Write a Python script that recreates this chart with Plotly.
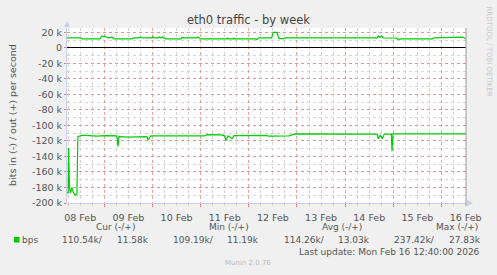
import plotly.graph_objects as go

# ---------------- data ----------------
in_times = ["2026-02-08 05:25", "2026-02-08 06:00", "2026-02-08 06:10", "2026-02-08 06:40",
            "2026-02-08 07:10", "2026-02-08 07:50", "2026-02-08 08:40", "2026-02-08 09:30",
            "2026-02-08 10:20", "2026-02-08 10:50", "2026-02-08 13:00", "2026-02-08 16:00",
            "2026-02-08 20:00", "2026-02-09 01:00", "2026-02-09 06:20", "2026-02-09 06:50",
            "2026-02-09 07:20", "2026-02-09 12:00", "2026-02-09 18:00", "2026-02-09 21:15",
            "2026-02-09 21:45", "2026-02-09 23:15", "2026-02-10 12:00", "2026-02-11 01:40",
            "2026-02-11 03:10", "2026-02-11 10:10", "2026-02-11 12:00", "2026-02-11 12:40",
            "2026-02-11 13:40", "2026-02-11 15:40", "2026-02-11 16:40", "2026-02-12 08:00",
            "2026-02-12 10:00", "2026-02-12 20:00", "2026-02-12 23:00", "2026-02-14 16:00",
            "2026-02-14 16:30", "2026-02-14 17:30", "2026-02-14 18:30", "2026-02-14 19:30",
            "2026-02-14 23:00", "2026-02-14 23:20", "2026-02-14 23:50", "2026-02-16 12:12"]
in_bps = [187000, 187000, 129000, 181000, 187000, 180000, 187000, 189500,
          189500, 114500, 112500, 113000, 113800, 113300, 113500, 127000,
          114500, 115000, 114200, 114500, 118700, 113600, 113500, 113600,
          112000, 112300, 113500, 119600, 113500, 117000, 113200, 112800,
          113800, 113500, 111000, 111200, 117400, 112500, 117000, 111200,
          111200, 132900, 111000, 111000]

out_times = ["2026-02-08 05:25", "2026-02-08 12:10", "2026-02-08 13:00", "2026-02-08 21:50",
             "2026-02-08 22:40", "2026-02-08 23:50", "2026-02-09 00:50", "2026-02-09 02:00",
             "2026-02-09 04:00", "2026-02-09 04:50", "2026-02-09 13:50", "2026-02-09 14:50",
             "2026-02-09 17:20", "2026-02-09 17:50", "2026-02-09 18:50", "2026-02-10 00:00",
             "2026-02-10 00:20", "2026-02-10 01:00", "2026-02-10 02:50", "2026-02-10 03:20",
             "2026-02-10 04:00", "2026-02-10 05:00", "2026-02-10 06:40", "2026-02-10 14:10",
             "2026-02-10 14:50", "2026-02-10 15:40", "2026-02-10 22:00", "2026-02-10 22:40",
             "2026-02-10 23:40", "2026-02-11 13:00", "2026-02-11 13:20", "2026-02-11 13:50",
             "2026-02-11 16:00", "2026-02-11 16:20", "2026-02-11 16:50", "2026-02-12 03:30",
             "2026-02-12 04:00", "2026-02-12 05:00", "2026-02-12 11:20", "2026-02-12 12:10",
             "2026-02-12 14:00", "2026-02-12 15:00", "2026-02-12 17:40", "2026-02-12 18:20",
             "2026-02-13 17:30", "2026-02-13 18:00", "2026-02-13 18:30", "2026-02-13 20:30",
             "2026-02-13 21:00", "2026-02-13 21:30", "2026-02-14 16:00", "2026-02-14 16:30",
             "2026-02-14 17:20", "2026-02-14 18:10", "2026-02-14 19:00", "2026-02-15 01:30",
             "2026-02-15 02:20", "2026-02-15 04:20", "2026-02-15 19:30", "2026-02-15 20:20",
             "2026-02-16 09:50", "2026-02-16 10:20", "2026-02-16 11:40", "2026-02-16 12:12"]
out_bps = [12900, 12900, 11600, 11600, 15000, 15000, 14200, 12900,
           13600, 11600, 11600, 12900, 12900, 14000, 12900, 12900,
           14000, 12900, 12900, 14000, 12900, 14000, 11600, 11600,
           13600, 12900, 12900, 14000, 11600, 11600, 12600, 11600,
           11600, 12600, 11600, 11600, 10500, 12900, 12900, 19800,
           19800, 11800, 11800, 12900, 12900, 12000, 12900, 12900,
           12000, 12900, 12900, 15000, 13600, 15000, 12600, 12600,
           10900, 11600, 11600, 12900, 12900, 13800, 12300, 12300]

y_tick_vals = [20000, 0, -20000, -40000, -60000, -80000, -100000, -120000,
               -140000, -160000, -180000, -200000]
y_tick_text = ["20 k", "0", "-20 k", "-40 k", "-60 k", "-80 k", "-100 k", "-120 k",
               "-140 k", "-160 k", "-180 k", "-200 k"]
x_range = ["2026-02-08 05:25", "2026-02-16 12:12"]

title_text = "eth0 traffic - by week"
y_title = "bits in (-) / out (+) per second"
legend_headers = ["Cur (-/+)", "Min (-/+)", "Avg (-/+)", "Max (-/+)"]
legend_in = ["110.54k/", "109.19k/", "114.26k/", "237.42k/"]
legend_out = ["11.58k", "11.19k", "13.03k", "27.83k"]
series_name = "bps"
last_update = "Last update: Mon Feb 16 12:40:00 2026"
footer = "Munin 2.0.76"
side_text = "RRDTOOL / TOBI OETIKER"

# ---------------- layout helpers ----------------
W, H = 497, 275
L, R, T, B = 67, 466, 28, 203
def px(x):
    return (x - L) / (R - L)
def py(y):
    return (B - y) / (B - T)

GREEN = "#00CC00"
TXT = "#555555"
FONT = "DejaVu Sans"
FS = 9

fig = go.Figure()
fig.add_trace(go.Scatter(x=out_times, y=out_bps, mode="lines",
                         line=dict(color=GREEN, width=1.2), hoverinfo="skip"))
fig.add_trace(go.Scatter(x=in_times, y=[-v for v in in_bps], mode="lines",
                         line=dict(color=GREEN, width=1.2), hoverinfo="skip"))

fig.update_layout(
    width=W, height=H,
    margin=dict(l=L, r=W - R, t=T, b=H - B),
    paper_bgcolor="#F0F0F0", plot_bgcolor="#FFFFFF",
    showlegend=False,
    font=dict(family=FONT, size=FS, color=TXT),
)
fig.update_xaxes(
    type="date", range=x_range,
    tick0="2026-02-08 00:00", dtick=86400000, tickformat="%d %b",
    ticklabelmode="period",
    showgrid=True, gridcolor="rgba(230,130,130,0.75)", griddash="dot", gridwidth=1,
    minor=dict(dtick=21600000, showgrid=True, gridcolor="#D4D4D4", griddash="dot",
               ticks="outside", ticklen=2, tickcolor="#CCCCCC"),
    ticks="outside", ticklen=3, tickcolor="#E08080",
    showline=True, linecolor="#C8CCF0", linewidth=1,
    zeroline=False, ticklabelstandoff=3,
    tickfont=dict(family=FONT, size=FS + 0.5, color=TXT),
)
fig.update_yaxes(
    range=[-200000, 25500],
    tickvals=y_tick_vals, ticktext=y_tick_text,
    showgrid=True, gridcolor="rgba(230,130,130,0.75)", griddash="dot", gridwidth=1,
    minor=dict(dtick=10000, showgrid=True, gridcolor="#D4D4D4", griddash="dot"),
    ticks="outside", ticklen=2, tickcolor="#E08080",
    showline=True, linecolor="#C8CCF0", linewidth=1,
    zeroline=True, zerolinecolor="#000000", zerolinewidth=1,
    tickfont=dict(family=FONT, size=FS + 0.5, color=TXT),
)

shapes = [
    # right frame line
    dict(type="line", xref="paper", yref="paper", x0=1, x1=1, y0=py(203 + 3), y1=1,
         line=dict(color="#999999", width=1)),
    # y axis arrow
    dict(type="path", xref="paper", yref="paper",
         path=f"M {px(64)} {py(27)} L {px(70)} {py(27)} L {px(67)} {py(21)} Z",
         fillcolor="#C8CCF0", line=dict(color="#C8CCF0", width=0)),
    # x axis arrow
    dict(type="path", xref="paper", yref="paper",
         path=f"M {px(467)} {py(200)} L {px(467)} {py(206)} L {px(473)} {py(203)} Z",
         fillcolor="#C8CCF0", line=dict(color="#C8CCF0", width=0)),
    # legend colour box
    dict(type="rect", xref="paper", yref="paper",
         x0=px(14), x1=px(19.5), y0=py(242.5), y1=py(237),
         fillcolor=GREEN, line=dict(width=0)),
]
fig.update_layout(shapes=shapes)

ann = []
def add(text, x, y, xa="left", size=FS, color=TXT, angle=0, ya="middle"):
    ann.append(dict(text=text, x=px(x), y=py(y), xref="paper", yref="paper",
                    xanchor=xa, yanchor=ya, showarrow=False, textangle=angle,
                    font=dict(family=FONT, size=size, color=color)))

add(title_text, 248, 20, xa="center", size=11.5, color="#444444")
add(y_title, 12, 115, xa="center", size=FS + 0.5, angle=-90)
add(side_text, 488.5, 51, xa="center", size=7, color="#C8C8C8", angle=90)

head_right = [137, 251, 364, 480]
in_right = [105, 216, 327, 437]
out_right = [151, 261, 372, 483]
for i in range(4):
    add(legend_headers[i], head_right[i], 227, xa="right")
    add(legend_in[i], in_right[i], 239.5, xa="right")
    add(legend_out[i], out_right[i], 239.5, xa="right")
add(series_name, 19.5, 239.5, xa="left")
add(last_update, 482, 251.5, xa="right")
add(footer, 248, 263, xa="center", size=7, color="#BBBBBB")

fig.update_layout(annotations=ann)
fig.write_html("out.html")
